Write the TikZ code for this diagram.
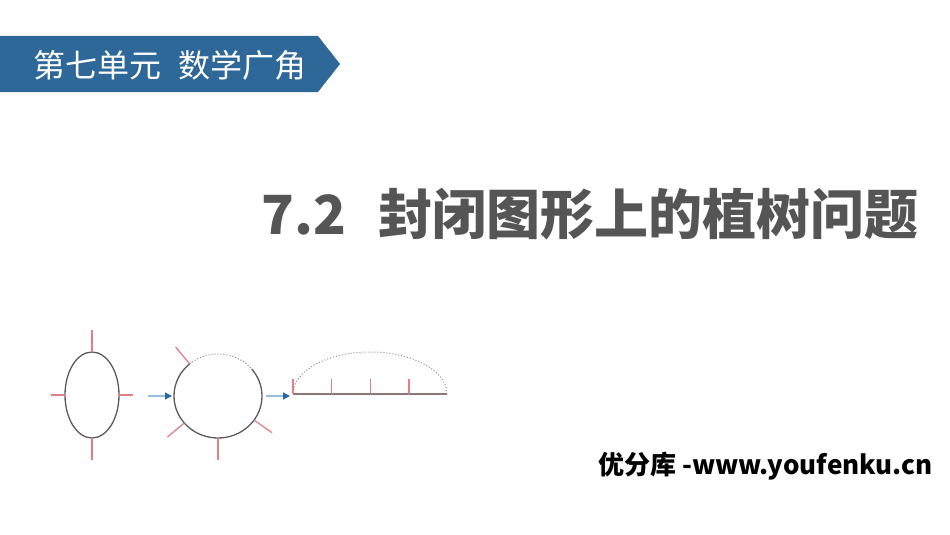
\documentclass[tikz,border=0pt]{standalone}
\usepackage{fontspec}
\newfontfamily\cjk{Noto Sans CJK SC}
\usetikzlibrary{arrows.meta}
\definecolor{bannerblue}{RGB}{46,104,153}
\definecolor{titlegray}{RGB}{85,85,85}
\definecolor{tickred}{RGB}{226,128,138}
\definecolor{outline}{RGB}{90,90,90}
\definecolor{arrowline}{RGB}{150,190,222}
\definecolor{arrowhead}{RGB}{40,105,165}
\definecolor{floorgray}{RGB}{140,118,118}
\tikzset{
  tick/.style={tickred, line width=1.3pt},
  shape line/.style={outline, line width=1.3pt},
  cut line/.style={outline!70, line width=1pt, dotted},
  move arrow/.style={arrowline, line width=1.2pt,
    -{Triangle[length=7pt,width=7pt,fill=arrowhead,color=arrowhead]}},
}
\begin{document}
\begin{tikzpicture}[x=1pt,y=-1pt]
\useasboundingbox (0,0) rectangle (950,535);
% banner
\fill[bannerblue] (0,36) -- (318,36) -- (340,64) -- (318,92) -- (0,92) -- cycle;
\node[anchor=west, white, font=\cjk\fontsize{32}{35}\selectfont, inner sep=0pt] (unit) at (33,65) {第七单元\hspace{0.55em}数学广角};
% title
\node[anchor=east, titlegray, font=\cjk\bfseries\fontsize{54}{60}\selectfont, inner sep=0pt] (title) at (919,214) {7.2\hspace{0.6em}封闭图形上的植树问题};

% ellipse with four trees
\coordinate (oval) at (92,395);
\draw[shape line] (oval) ellipse [x radius=27, y radius=43];
\draw[tick] (92,352) -- (92,330);
\draw[tick] (92,438) -- (92,460);
\draw[tick] (65,395) -- (51,395);
\draw[tick] (119,395) -- (133,395);

% circle, opened at the top
\coordinate (ring) at (218,396);
\draw[shape line] ([shift={(-130:44 and 42)}]ring) arc [start angle=-130, end angle=-400, x radius=44, y radius=42];
\draw[cut line] ([shift={(-130:44 and 42)}]ring) arc [start angle=-130, end angle=-40, x radius=44, y radius=42];
\foreach \a in {130,220,270,325} {
  \draw[tick] ([shift={(-\a:44 and 42)}]ring) -- ([shift={(-\a:66 and 64)}]ring);
}

% line with trees
\coordinate (lineA) at (293,394);
\coordinate (lineB) at (447,394);
\draw[cut line] (lineB) arc [start angle=0, end angle=-180, x radius=77, y radius=42];
\draw[floorgray, line width=1.3pt] (lineA) -- (lineB);
\foreach \x in {0,1,2,3} {
  \draw[tick] ([xshift=\x*38.7pt]lineA) -- ++(0,-15);
}

% arrows
\coordinate (go1) at (148,396);
\coordinate (to1) at (172,396);
\coordinate (go2) at (266,396);
\coordinate (to2) at (290,396);
\draw[move arrow] (go1) -- (to1);
\draw[move arrow] (go2) -- (to2);

% footer
\node[anchor=west, black, font=\cjk\bfseries\fontsize{26}{30}\selectfont, inner sep=0pt] (site) at (598,466) {优分库 -www.youfenku.cn};
\end{tikzpicture}
\end{document}
